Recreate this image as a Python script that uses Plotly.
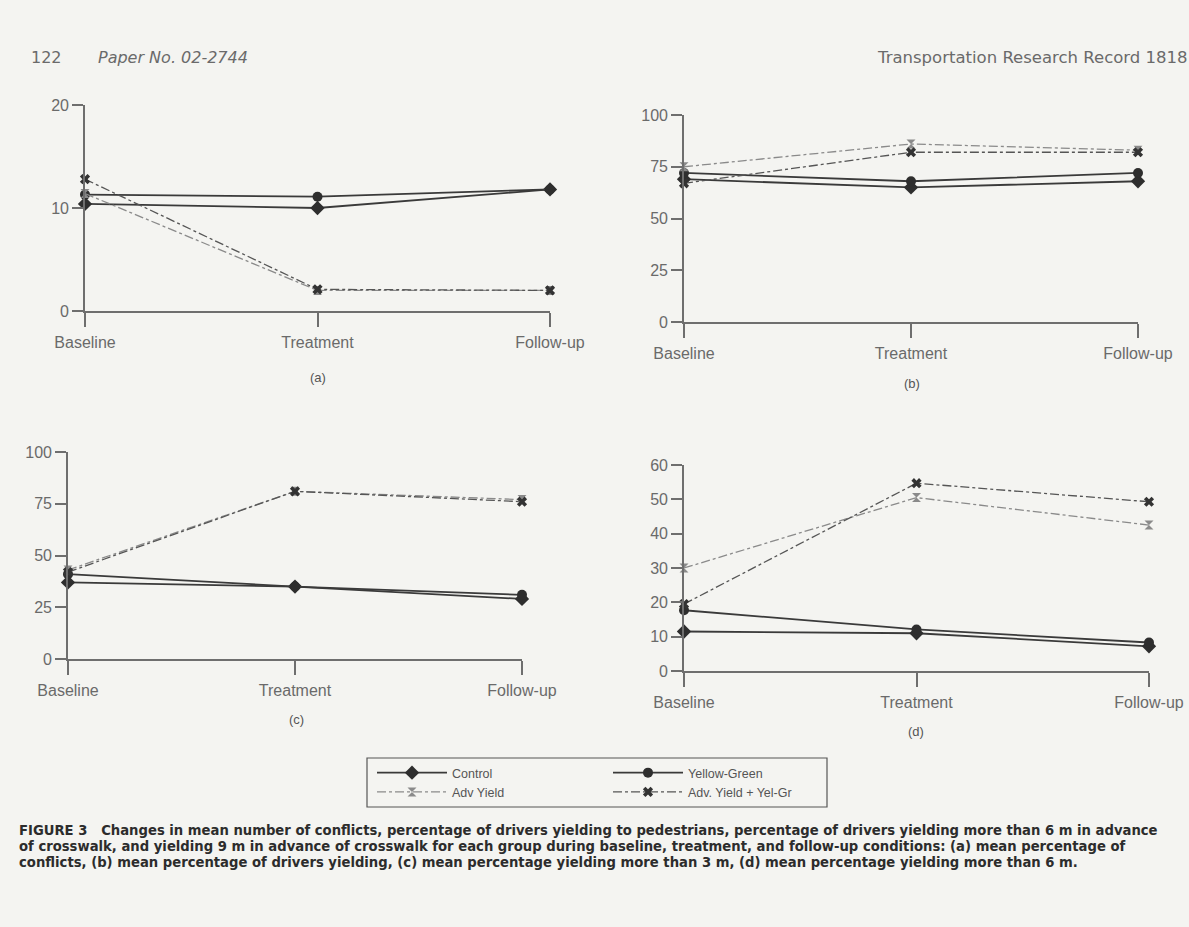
import plotly.graph_objects as go

W, H = 1189, 927

phases = ["Baseline", "Treatment", "Follow-up"]
groups = ["Control", "Yellow-Green", "Adv Yield", "Adv. Yield + Yel-Gr"]

# (a) mean number of conflicts
a_control = [10.4, 10.0, 11.8]
a_yellow_green = [11.3, 11.1, 11.8]
a_adv_yield = [11.4, 2.0, 2.0]
a_adv_yield_yg = [12.8, 2.1, 2.0]

# (b) mean percentage of drivers yielding
b_control = [69, 65, 68]
b_yellow_green = [72, 68, 72]
b_adv_yield = [75, 86, 83]
b_adv_yield_yg = [67, 82, 82]

# (c) mean percentage yielding more than 3 m
c_control = [37, 35, 29]
c_yellow_green = [41, 35, 31]
c_adv_yield = [43, 81, 77]
c_adv_yield_yg = [42, 81, 76]

# (d) mean percentage yielding more than 6 m
d_control = [11.5, 11.0, 7.2]
d_yellow_green = [17.7, 12.1, 8.3]
d_adv_yield = [30.0, 50.5, 42.5]
d_adv_yield_yg = [19.5, 54.7, 49.3]

panel_titles = ["(a)", "(b)", "(c)", "(d)"]
y_max = [20, 100, 100, 60]
y_step = [10, 25, 25, 10]

panels = [
    [a_control, a_yellow_green, a_adv_yield, a_adv_yield_yg],
    [b_control, b_yellow_green, b_adv_yield, b_adv_yield_yg],
    [c_control, c_yellow_green, c_adv_yield, c_adv_yield_yg],
    [d_control, d_yellow_green, d_adv_yield, d_adv_yield_yg],
]

# pixel boxes of each subplot: x_left, x_right, y_top, y_bottom
boxes = [
    (85, 550, 105, 311),
    (684, 1138, 115, 322),
    (68, 522, 452, 659),
    (684, 1149, 465, 671),
]
sub_label_pos = [(318, 377), (912, 384), (296, 719), (916, 731)]

styles = [
    dict(line=dict(color="#3a3a3a", width=1.8, dash="solid"),
         marker=dict(symbol="diamond", size=11, color="#2e2e2e")),
    dict(line=dict(color="#3a3a3a", width=1.8, dash="solid"),
         marker=dict(symbol="circle", size=10, color="#2e2e2e")),
    dict(line=dict(color="#8a8a8a", width=1.3, dash="dashdot"),
         marker=dict(symbol="hourglass", size=9, color="#8a8a8a")),
    dict(line=dict(color="#555555", width=1.3, dash="dashdot"),
         marker=dict(symbol="x", size=9, color="#333333")),
]
# which of the two legend columns each group goes in
legend_slot = ["legend", "legend2", "legend", "legend2"]

FONT = "Liberation Sans, Arial, sans-serif"
WIDE = "DejaVu Sans, Liberation Sans, sans-serif"
AX = "#6e6e6e"


def px_x(x):
    return x / W


def px_y(y):
    return 1 - y / H


fig = go.Figure()
layout = dict(
    width=W, height=H, autosize=False,
    margin=dict(l=0, r=0, t=0, b=0, autoexpand=False),
    paper_bgcolor="#f4f4f1", plot_bgcolor="rgba(0,0,0,0)",
    font=dict(family=FONT, color="#555"),
)

for i, (vals, box) in enumerate(zip(panels, boxes)):
    n = "" if i == 0 else str(i + 1)
    xl, xr, yt, yb = box
    for g, (name, ys, st) in enumerate(zip(groups, vals, styles)):
        fig.add_trace(go.Scatter(
            x=[0, 1, 2], y=ys, name=name, mode="lines+markers",
            line=st["line"], marker=st["marker"],
            legendgroup=name, showlegend=(i == 0), legend=legend_slot[g],
            cliponaxis=False, xaxis="x" + n, yaxis="y" + n,
        ))
    layout["xaxis" + n] = dict(
        domain=[px_x(xl), px_x(xr)], anchor="y" + n, range=[0, 2],
        tickvals=[0, 1, 2], ticktext=phases,
        showline=True, linecolor=AX, linewidth=1.6,
        ticks="outside", ticklen=14, tickwidth=1.6, tickcolor=AX,
        ticklabelstandoff=2,
        showgrid=False, zeroline=False, fixedrange=True,
        tickfont=dict(family=FONT, size=16, color="#6a6a6a"),
    )
    layout["yaxis" + n] = dict(
        domain=[px_y(yb), px_y(yt)], anchor="x" + n,
        range=[0, y_max[i]], dtick=y_step[i], tick0=0,
        showline=True, linecolor=AX, linewidth=1.6,
        ticks="outside", ticklen=11, tickwidth=1.6, tickcolor=AX,
        showgrid=False, zeroline=False, fixedrange=True,
        tickfont=dict(family=FONT, size=16, color="#6a6a6a"),
    )

annotations = []
for lab, (x, y) in zip(panel_titles, sub_label_pos):
    annotations.append(dict(
        text=lab, x=px_x(x), y=px_y(y), xref="paper", yref="paper",
        showarrow=False, xanchor="center", yanchor="middle",
        font=dict(family=FONT, size=13, color="#555"),
    ))

# running head
annotations += [
    dict(text="122", x=px_x(29), y=px_y(57), xref="paper", yref="paper",
         showarrow=False, xanchor="left", yanchor="middle",
         font=dict(family=WIDE, size=16, color="#6a6a6a")),
    dict(text="<i>Paper No. 02-2744</i>", x=px_x(96), y=px_y(57),
         xref="paper", yref="paper", showarrow=False,
         xanchor="left", yanchor="middle",
         font=dict(family=WIDE, size=16, color="#6a6a6a")),
    dict(text="Transportation Research Record 1818", x=px_x(875), y=px_y(57),
         xref="paper", yref="paper", showarrow=False,
         xanchor="left", yanchor="middle",
         font=dict(family=WIDE, size=16.5, color="#6a6a6a")),
]

caption_lines = [
    "FIGURE 3   Changes in mean number of conflicts, percentage of drivers yielding to pedestrians, "
    "percentage of drivers yielding more than 6 m in advance",
    "of crosswalk, and yielding 9 m in advance of crosswalk for each group during baseline, treatment, "
    "and follow-up conditions: (a) mean percentage of",
    "conflicts, (b) mean percentage of drivers yielding, (c) mean percentage yielding more than 3 m, "
    "(d) mean percentage yielding more than 6 m.",
]
for k, line in enumerate(caption_lines):
    annotations.append(dict(
        text=line, x=px_x(17), y=px_y(830 + 16 * k), xref="paper", yref="paper",
        showarrow=False, xanchor="left", yanchor="middle",
        font=dict(family=WIDE, size=13.2, color="#2c2c2c", weight="bold"),
    ))

layout["annotations"] = annotations

# border box around the two legend columns
layout["shapes"] = [dict(
    type="rect", xref="paper", yref="paper",
    x0=px_x(367), x1=px_x(827), y0=px_y(807), y1=px_y(758),
    line=dict(color="#555", width=1.2), fillcolor="rgba(0,0,0,0)",
)]
legend_common = dict(
    orientation="v", xanchor="left", yanchor="top",
    bgcolor="rgba(0,0,0,0)", borderwidth=0, itemwidth=70,
    font=dict(family=FONT, size=12.5, color="#555"), tracegroupgap=0,
)
layout["legend"] = dict(legend_common, x=px_x(372), y=px_y(758))
layout["legend2"] = dict(legend_common, x=px_x(608), y=px_y(758))

fig.update_layout(**layout)
fig.write_html("out.html")
